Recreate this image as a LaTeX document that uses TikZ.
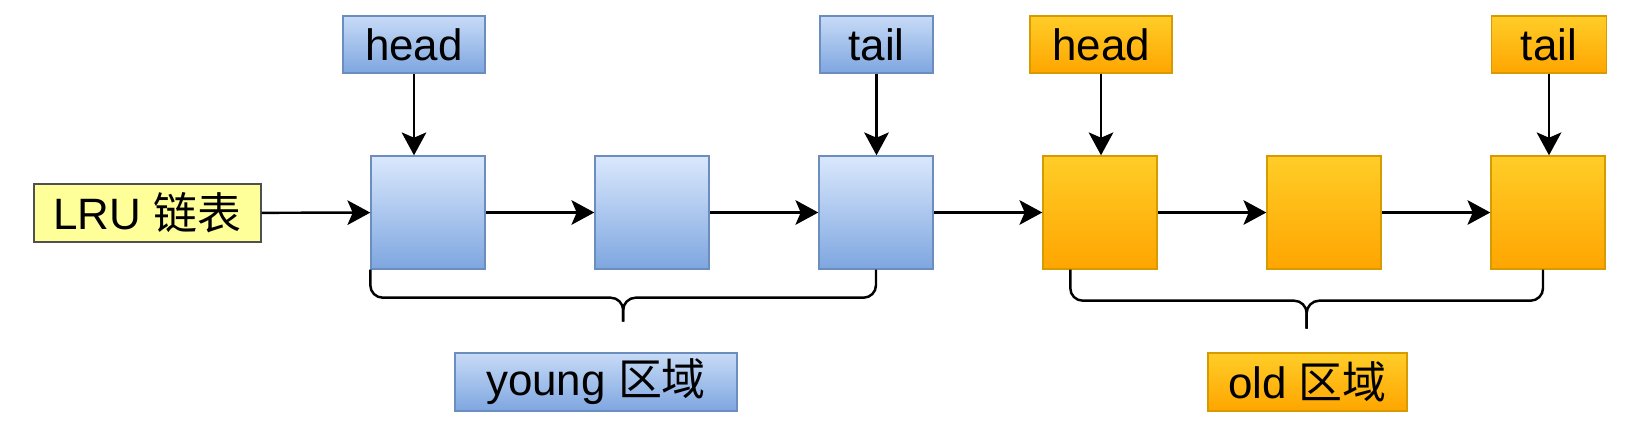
\documentclass[tikz,border=0pt]{standalone}
\usepackage{fontspec}
\setmainfont{Liberation Sans}
\newfontfamily\cjk{Noto Sans CJK SC}
\usepackage{tikz}
\usetikzlibrary{positioning,arrows.meta,calc}

\definecolor{ytop}{HTML}{DAE8FC}
\definecolor{ybot}{HTML}{7EA6E0}
\definecolor{yline}{HTML}{6C8EBF}
\definecolor{otop}{HTML}{FFCD28}
\definecolor{obot}{HTML}{FFA500}
\definecolor{oline}{HTML}{D79B00}
\definecolor{lfill}{HTML}{FFFF99}
\definecolor{lline}{HTML}{505050}

\begin{document}
\begin{tikzpicture}[>={Stealth[length=13pt,width=14pt,inset=3pt]},
	every node/.style={font=\fontsize{25}{30}\selectfont, inner sep=0pt},
	yblk/.style={draw=yline, line width=0.8pt, top color=ytop, bottom color=ybot,
		minimum width=2.28cm, minimum height=2.26cm},
	oblk/.style={draw=oline, line width=0.8pt, top color=otop, bottom color=obot,
		minimum width=2.28cm, minimum height=2.26cm},
	ytag/.style={draw=yline, line width=0.8pt, top color=ytop!80!ybot, bottom color=ybot,
		minimum height=1.14cm},
	otag/.style={draw=oline, line width=0.8pt, top color=otop, bottom color=obot,
		minimum height=1.14cm},
	link/.style={->, line width=1.4pt},
	brace/.style={line width=1.4pt, rounded corners=0.25cm}]
	\useasboundingbox (0,0) rectangle (33.02,8.62);

	\node[draw=lline, line width=0.8pt, fill=lfill,
		  minimum width=4.54cm, minimum height=1.16cm] 
		  (lru) at (2.95,4.36) {LRU {\cjk 链表}};

	\node[yblk] (Y1) at (8.56,4.37) {};
	\node[yblk] (Y2) at (13.04,4.37) {};
	\node[yblk] (Y3) at (17.52,4.37) {};
	\node[oblk] (O1) at (22.00,4.37) {};
	\node[oblk] (O2) at (26.48,4.37) {};
	\node[oblk] (O3) at (30.96,4.37) {};

	\node[ytag, minimum width=2.84cm] (yhead) at (8.28,7.73) {head};
	\node[ytag, minimum width=2.26cm] (ytail) at (17.53,7.73) {tail};
	\node[otag, minimum width=2.84cm] (ohead) at (22.02,7.73) {head};
	\node[otag, minimum width=2.30cm] (otail) at (30.98,7.73) {tail};

	\node[ytag, minimum width=5.64cm, minimum height=1.16cm] 
		  (yarea) at (11.92,0.98) {young {\cjk 区域}};
	\node[otag, minimum width=3.98cm, minimum height=1.16cm] 
		  (oarea) at (26.15,0.98) {old {\cjk 区域}};

	\draw[link] (lru) -- (Y1);
	\draw[link] (Y1) -- (Y2);
	\draw[link] (Y2) -- (Y3);
	\draw[link] (Y3) -- (O1);
	\draw[link] (O1) -- (O2);
	\draw[link] (O2) -- (O3);

	\draw[link] (yhead) -- (yhead |- Y1.north);
	\draw[link] (ytail) -- (ytail |- Y3.north);
	\draw[link] (ohead) -- (ohead |- O1.north);
	\draw[link] (otail) -- (otail |- O3.north);

	% braces under the two areas
	\coordinate (ytip) at ($(Y1.south west)!0.5!(Y3.south)+(0,-1.04)$);
	\draw[brace] (Y1.south west) -- ++(0,-0.56) -| (ytip);
	\draw[brace] (Y3.south) -- ++(0,-0.56) -| (ytip);
	\coordinate (oleft) at ($(O1.south west)+(0.56,0)$);
	\coordinate (oright) at ($(O3.south)+(-0.1,0)$);
	\coordinate (otip) at ($(oleft)!0.5!(oright)+(0,-1.18)$);
	\draw[brace] (oleft) -- ++(0,-0.62) -| (otip);
	\draw[brace] (oright) -- ++(0,-0.62) -| (otip);
\end{tikzpicture}
\end{document}
